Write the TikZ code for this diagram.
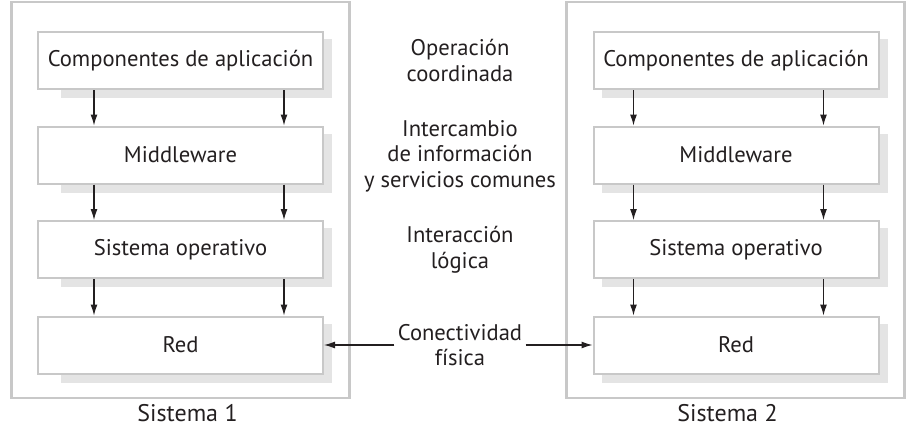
\documentclass[tikz,border=0pt]{standalone}
\usepackage{fontspec}
\setmainfont{PT Sans}
\usetikzlibrary{arrows.meta,calc,positioning,backgrounds}
\definecolor{framegray}{RGB}{200,200,200}
\definecolor{shadegray}{RGB}{228,228,228}
\definecolor{inkgray}{RGB}{35,31,32}
\tikzset{
  layer/.style={draw=framegray,line width=2pt,fill=white,minimum width=285pt,
    minimum height=57pt,inner sep=0pt,text=inkgray,font=\fontsize{22.6}{25}\selectfont},
  system/.style={draw=framegray,line width=2.4pt,minimum width=338pt,
    minimum height=396pt,inner sep=0pt},
  note/.style={align=center,text=inkgray,font=\fontsize{22.6}{25.5}\selectfont},
  caption/.style={text=inkgray,inner sep=0pt,font=\fontsize{24}{27}\selectfont},
}
\begin{document}
\begin{tikzpicture}[x=1pt,y=-1pt,>={Latex[length=11pt,width=7pt]}]
  \useasboundingbox (0,0) rectangle (906,429);

  % the two systems
  \node[system] (sys1) at (180.5,200) {};
  \node[system] (sys2) at (735.5,200) {};
  \node[caption,below=5pt of sys1,xshift=7pt] (lab1) {Sistema 1};
  \node[caption,below=5pt of sys2,xshift=-8pt] (lab2) {Sistema 2};

  % layers of each system
  \node[layer] (app1) at (180.5,60.5) {Componentes de aplicación};
  \node[layer] (mid1) at (180.5,155) {Middleware};
  \node[layer] (os1) at (180.5,249.5) {Sistema operativo};
  \node[layer] (red1) at (180.5,345) {Red};
  \node[layer] (app2) at (736,60.5) {Componentes de aplicación};
  \node[layer] (mid2) at (736,155) {Middleware};
  \node[layer] (os2) at (736,249.5) {Sistema operativo};
  \node[layer] (red2) at (736,345) {Red};

  \begin{scope}[on background layer]
    \foreach \n/\d in {app1/24,mid1/24,os1/24,red1/24,app2/9,mid2/9,os2/9,red2/9}
      \fill[shadegray] ($(\n.south west)+(\d,8)$) rectangle ($(\n.north east)+(8,8)$);
  \end{scope}

  % downward flow
  \foreach \a/\b in {app1/mid1,mid1/os1,os1/red1} {
    \draw[->,inkgray,line width=1.2pt] ($(\a.south west)+(57,0)$) -- ($(\b.north west)+(57,0)$);
    \draw[->,inkgray,line width=1.2pt] ($(\a.south east)+(-40,0)$) -- ($(\b.north east)+(-40,0)$);
  }
  \foreach \a/\b in {app2/mid2,mid2/os2,os2/red2} {
    \draw[->,inkgray,line width=1.2pt] ($(\a.south west)+(41,0)$) -- ($(\b.north west)+(41,0)$);
    \draw[->,inkgray,line width=1.2pt] ($(\a.south east)+(-56,0)$) -- ($(\b.north east)+(-56,0)$);
  }

  % relations between the levels
  \node[note] (coord) at (460,60.5) {Operación\\coordinada};
  \node[note] (info) at (460,156) {Intercambio\\de información\\y servicios comunes};
  \node[note] (logic) at (460,250) {Interacción\\lógica};
  \node[note] (phys) at (460,345) {Conectividad\\física};

  \draw[->,inkgray,line width=1.2pt] (phys.west) -- (red1.east);
  \draw[->,inkgray,line width=1.2pt] (phys.east) -- (red2.west);
\end{tikzpicture}
\end{document}
